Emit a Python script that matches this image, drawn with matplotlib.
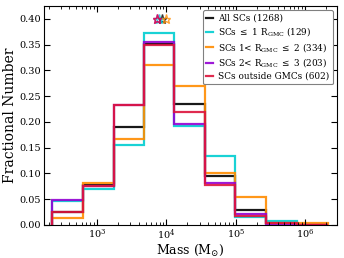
import numpy as np
import matplotlib.pyplot as plt

plt.rcParams['font.family'] = 'DejaVu Serif'
plt.rcParams['mathtext.fontset'] = 'dejavuserif'

# bin edges in log10(mass)
log_edges = [2.35, 2.79, 3.24, 3.67, 4.115, 4.56, 4.99, 5.44, 5.885, 6.33]

frac_all = [0.025, 0.077, 0.191, 0.352, 0.235, 0.095, 0.029, 0.003, 0.0]
frac_in1 = [0.047, 0.070, 0.156, 0.372, 0.193, 0.133, 0.016, 0.0085, 0.0]
frac_1to2 = [0.013, 0.081, 0.167, 0.311, 0.270, 0.100, 0.055, 0.0045, 0.0045]
frac_2to3 = [0.049, 0.075, 0.233, 0.355, 0.195, 0.081, 0.021, 0.0, 0.0]
frac_out = [0.025, 0.076, 0.233, 0.349, 0.219, 0.077, 0.0175, 0.003, 0.0]

# median masses (stars)
med_mass = [8500, 7800, 10000, 7200, 7400]

labels = ["All SCs (1268)",
          r"SCs $\leq$ 1 R$_{\rm GMC}$ (129)",
          r"SCs 1< R$_{\rm GMC}$ $\leq$ 2 (334)",
          r"SCs 2< R$_{\rm GMC}$ $\leq$ 3 (203)",
          "SCs outside GMCs (602)"]
colors = ["black", "darkturquoise", "darkorange", "darkviolet", "crimson"]
series = [frac_all, frac_in1, frac_1to2, frac_2to3, frac_out]

fig = plt.figure(figsize=(3.44, 2.58), dpi=100)
ax = fig.add_axes([0.128, 0.128, 0.852, 0.849])

edges = 10 ** np.array(log_edges)
for i in range(len(series)):
    ax.stairs(series[i], edges, color=colors[i], lw=1.6, label=labels[i], alpha=0.9)

for m, c in zip(med_mass, colors):
    ax.plot(m, 0.40, marker='*', ms=6.5, mfc='none', mec=c, mew=1.0, alpha=0.8, ls='none')

ax.set_xscale('log')
ax.set_xlim(10 ** 2.235, 10 ** 6.46)
ax.set_ylim(0, 0.425)
ax.set_yticks(np.arange(0, 0.41, 0.05))
ax.tick_params(which='both', direction='in', top=True, right=True, labelsize=7, pad=2)
ax.tick_params(which='major', length=4)
ax.tick_params(which='minor', length=2)
ax.set_xlabel(r"Mass (M$_{\odot}$)", fontsize=9, labelpad=0)
ax.set_ylabel("Fractional Number", fontsize=10, labelpad=2)

leg = ax.legend(loc='upper right', fontsize=6.4, handlelength=0.8, handletextpad=0.5,
                labelspacing=0.28, borderpad=0.4, framealpha=1, edgecolor='gray')
leg.get_frame().set_linewidth(0.8)

fig.savefig("out.png", dpi=100)
